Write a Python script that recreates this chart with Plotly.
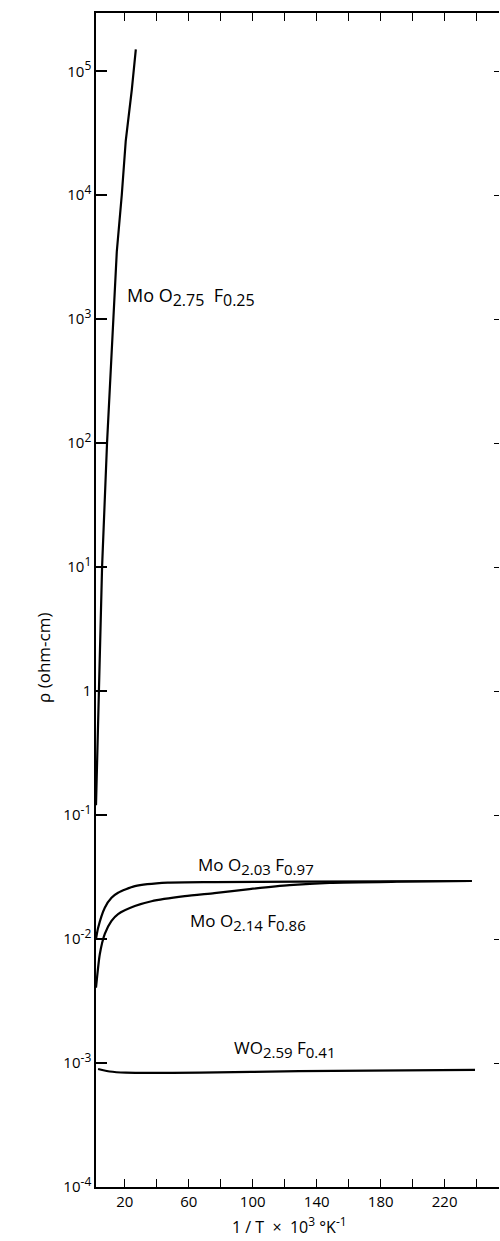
import plotly.graph_objects as go

# ---- data ----
x_mo275 = [2.0, 3.75, 5.1, 5.8, 8.9, 12.9, 15.0, 18.1, 20.6, 24.4, 26.9]
y_mo275 = [0.12, 1.0, 5.1, 10, 100, 1000, 3500, 1.0e4, 2.75e4, 7.1e4, 1.5e5]

x_mo203 = [2.0, 3.3, 7.5, 11.7, 15.8, 26.3, 46.9, 76, 130, 237]
y_mo203 = [0.0100, 0.0123, 0.0179, 0.0215, 0.0236, 0.0267, 0.0285, 0.0288, 0.0291, 0.0294]

x_mo214 = [2.0, 4.4, 7.5, 11.7, 15.8, 26.3, 36.7, 57.5, 76, 98, 123, 148, 190, 237]
y_mo214 = [0.00405, 0.00757, 0.0110, 0.0140, 0.0159, 0.01845, 0.0202, 0.0222, 0.0235,
           0.0253, 0.0272, 0.0284, 0.0290, 0.0294]

x_wo = [3.3, 10.6, 20.6, 67, 129, 239]
y_wo = [8.95e-4, 8.54e-4, 8.36e-4, 8.36e-4, 8.6e-4, 8.8e-4]

x_tickvals = [20, 40, 60, 80, 100, 120, 140, 160, 180, 200, 220, 240]
x_ticktext = ["20", "", "60", "", "100", "", "140", "", "180", "", "220", ""]
y_tickvals = [1e-4, 1e-3, 1e-2, 1e-1, 1, 1e1, 1e2, 1e3, 1e4, 1e5]
y_exps = ["-4", "-3", "-2", "-1", None, "1", "2", "3", "4", "5"]

FONT = "Open Sans"


def sup(s, size=12):
    return "<sup><span style='font-size:%dpx'>%s</span></sup>" % (size, s)


def sub(s, size=15):
    return "<sub><span style='font-size:%dpx'>%s</span></sub>" % (size, s)


y_ticktext = ["1" if e is None else "10" + sup(e) for e in y_exps]

fig = go.Figure()
for xs, ys, shp in [(x_mo275, y_mo275, "linear"), (x_mo203, y_mo203, "spline"),
                    (x_mo214, y_mo214, "spline"), (x_wo, y_wo, "spline")]:
    fig.add_trace(go.Scatter(x=xs, y=ys, mode="lines",
                             line=dict(color="black", width=2.2, shape=shp, smoothing=0.6),
                             showlegend=False, hoverinfo="skip"))
# invisible trace for the right-hand tick axis
fig.add_trace(go.Scatter(x=[None], y=[None], yaxis="y2", showlegend=False, hoverinfo="skip"))

fig.update_layout(
    width=500, height=1241,
    margin=dict(l=96, r=1, t=13, b=54, autoexpand=False),
    paper_bgcolor="white", plot_bgcolor="white",
    font=dict(family=FONT, color="black", size=12),
    xaxis=dict(range=[2, 254], showgrid=False, zeroline=False, showline=True,
               linecolor="black", linewidth=1.5, mirror="ticks", ticks="inside",
               ticklen=8, tickwidth=1, tickcolor="black", automargin=False,
               tickmode="array", tickvals=x_tickvals, ticktext=x_ticktext,
               tickfont=dict(size=15, family=FONT)),
    yaxis=dict(type="log", range=[-4, 5.47], showgrid=False, zeroline=False,
               showline=True, linecolor="black", linewidth=1.5, ticks="inside",
               ticklen=11, tickwidth=1.5, tickcolor="black", automargin=False,
               tickmode="array", tickvals=y_tickvals, ticktext=y_ticktext,
               tickfont=dict(size=15, family=FONT)),
    yaxis2=dict(type="log", range=[-4, 5.47], overlaying="y", side="right",
                showgrid=False, zeroline=False, showline=False, ticks="inside",
                ticklen=5, tickwidth=1.2, tickcolor="black", showticklabels=False,
                automargin=False, tickmode="array", tickvals=y_tickvals),
)

lab = dict(showarrow=False, xref="x", yref="y", xanchor="left", yanchor="middle",
           font=dict(size=17, family=FONT, color="black"))
fig.add_annotation(x=20, y=3.18, text="Mo O" + sub("2.75", 16) + "  F" + sub("0.25", 16),
                   **{**lab, "font": dict(size=18, family=FONT, color="black")})
fig.add_annotation(x=64.4, y=-1.41, text="Mo O" + sub("2.03") + " F" + sub("0.97"), **lab)
fig.add_annotation(x=59.4, y=-1.86, text="Mo O" + sub("2.14") + " F" + sub("0.86"), **lab)
fig.add_annotation(x=86.9, y=-2.89, text="WO" + sub("2.59") + " F" + sub("0.41"), **lab)

fig.add_annotation(x=-0.164, y=0.451, xref="paper", yref="paper", showarrow=False,
                   text="ρ (ohm-cm)", textangle=-90,
                   font=dict(size=17, family=FONT, color="black"))
fig.add_annotation(x=0.48, y=-0.0324, xref="paper", yref="paper", showarrow=False,
                   text="1 / T  ×  10" + sup("3", 12) + " °K" + sup("-1", 12), yanchor="middle",
                   font=dict(size=16, family=FONT, color="black"))

fig.write_html("out.html", config={"displayModeBar": False},
               post_script="document.body.style.margin='0px';")
